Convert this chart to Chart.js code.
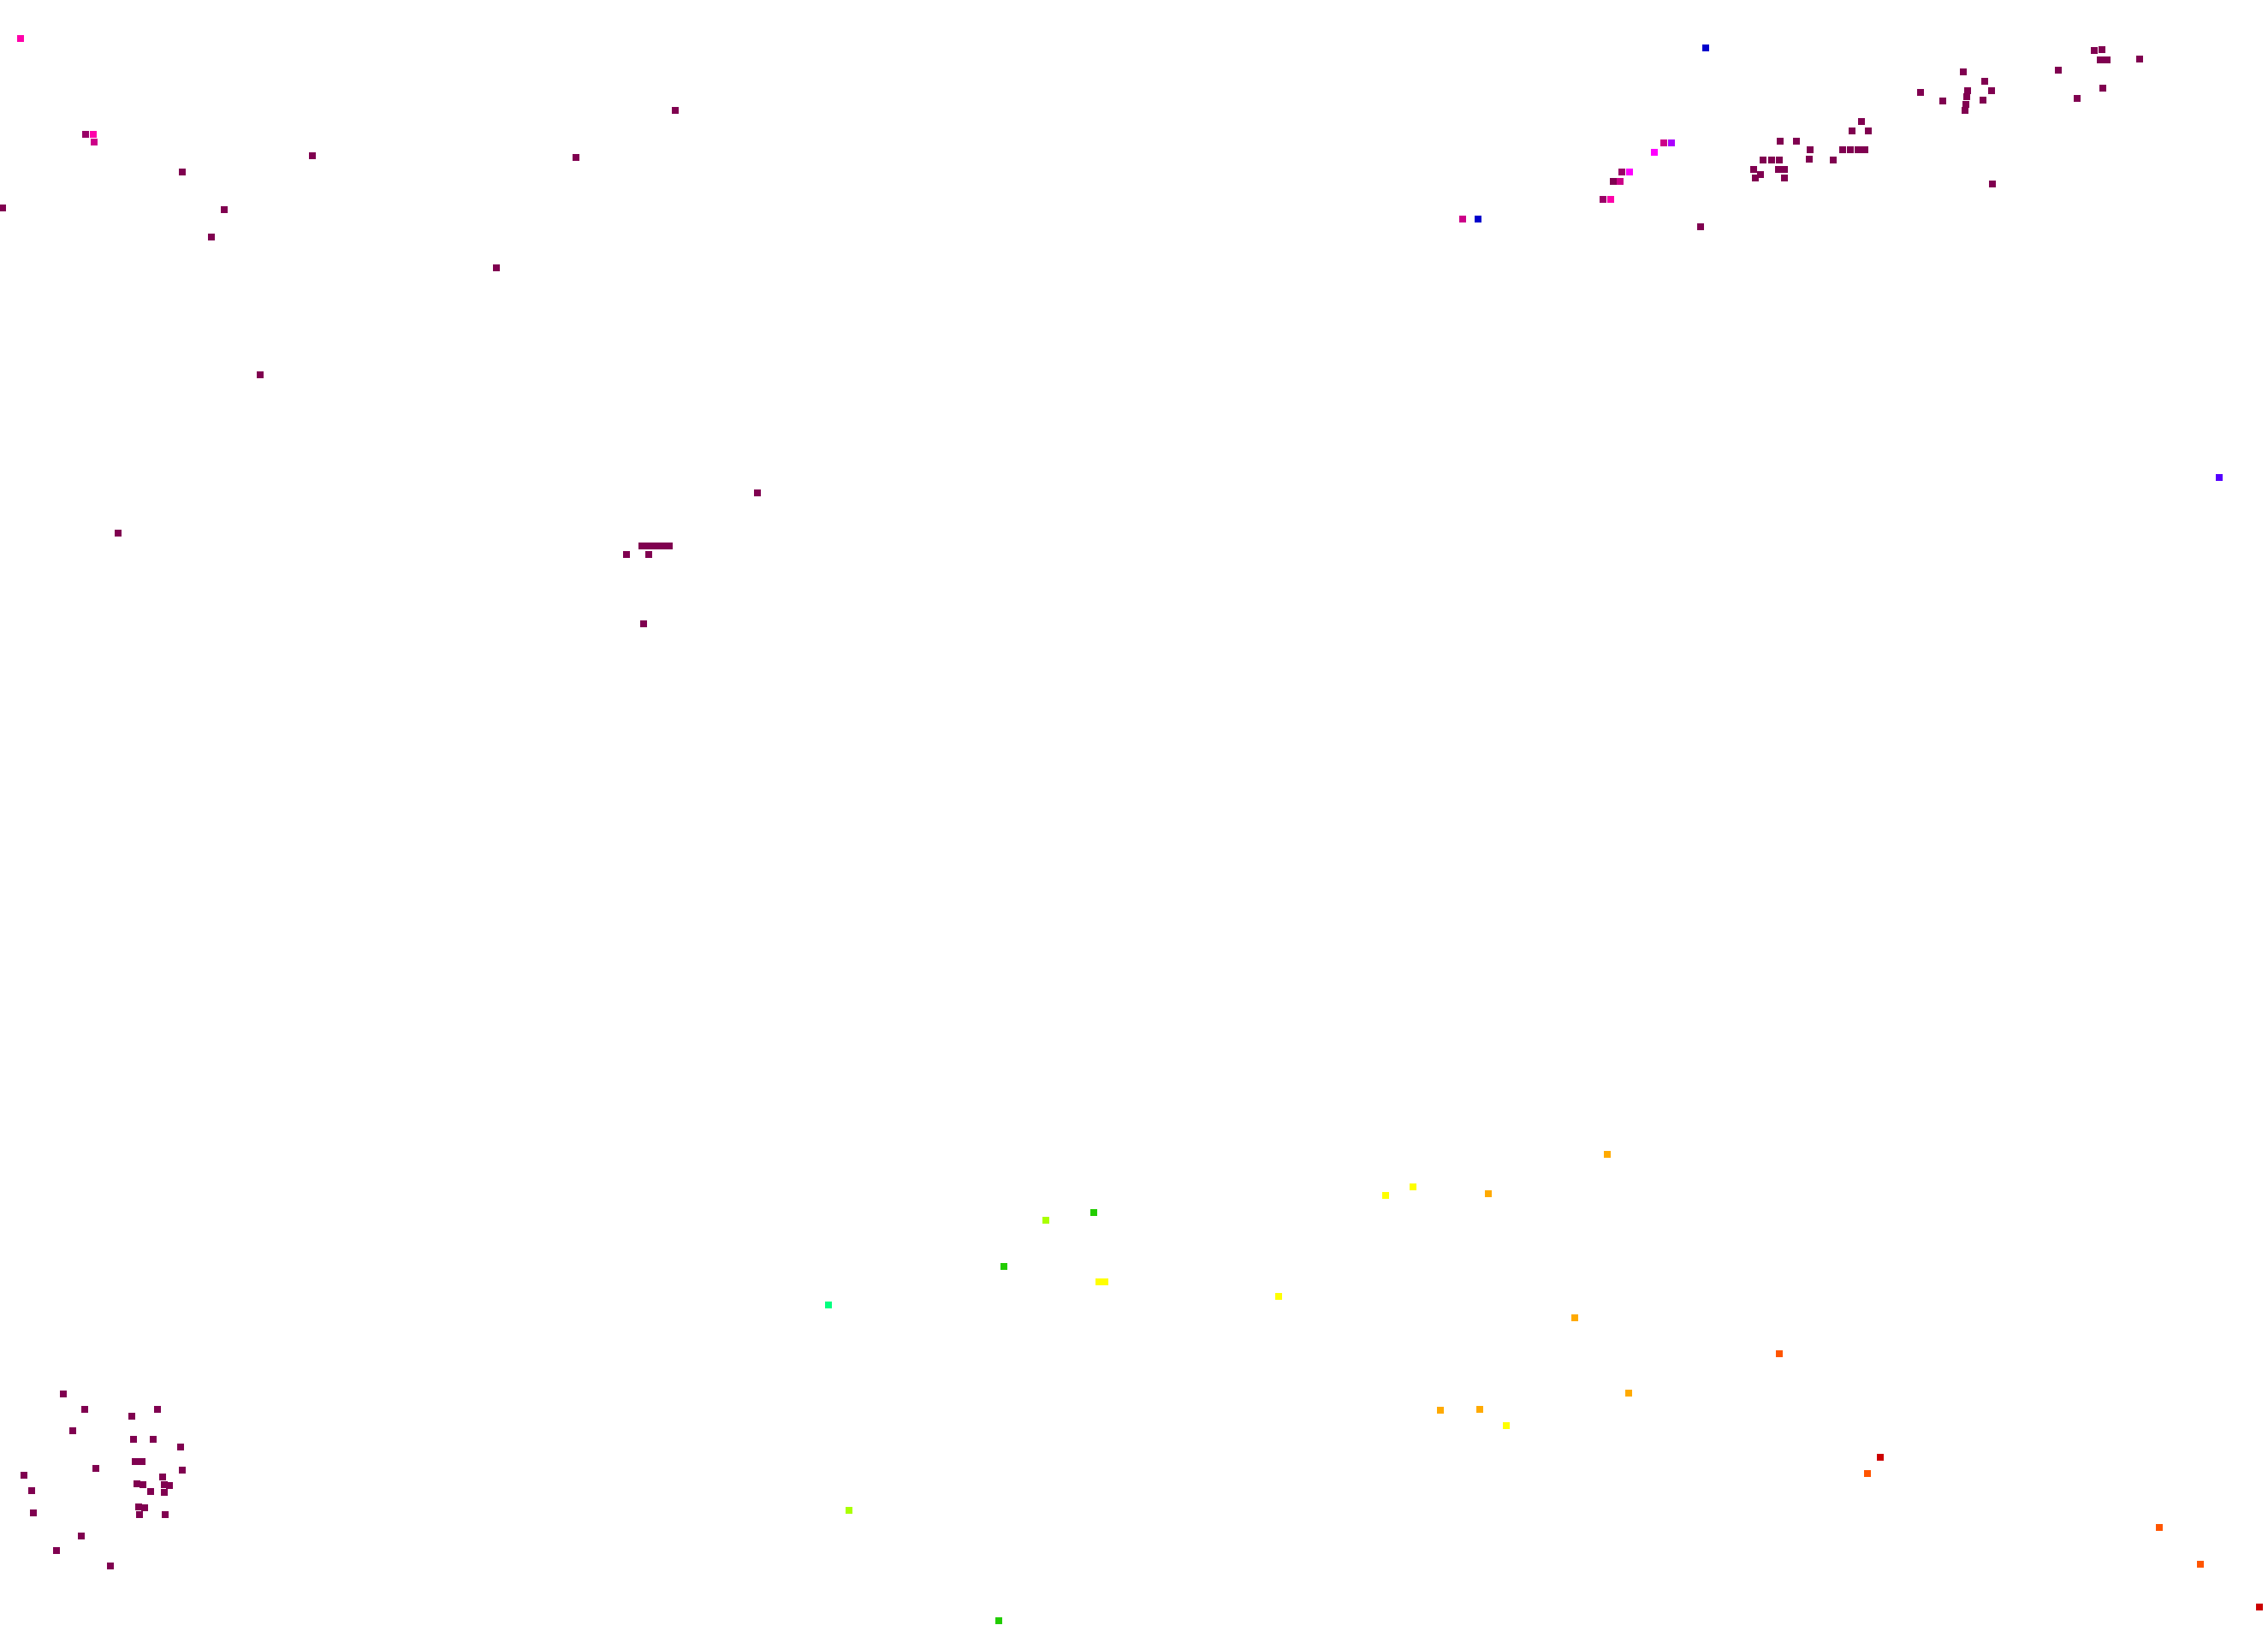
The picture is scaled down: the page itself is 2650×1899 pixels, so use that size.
<!DOCTYPE html>
<html>
<head>
<meta charset="utf-8">
<script src="https://cdn.jsdelivr.net/npm/chart.js@4/dist/chart.umd.min.js"></script>
<style>
html,body{margin:0;padding:0;background:#ffffff;overflow:hidden;}
#c{display:block;}
</style>
</head>
<body>
<canvas id="c" width="2650" height="1899"></canvas>
<script>
// Point positions (x, y in the plot's own units)
const purple = [
  [213,201],[365,182],[673,184],[789,129],[3,243],[262,245],[247,277],[580,313],[304,438],[885,576],[138,623],
  [750,638],[758,638],[766,638],[774,638],[782,638],[732,648],[758,648],[752,729],
  [1885,212],[1987,265],
  [2049,198],[2051,208],[2057,204],[2060,187],[2070,187],[2079,187],[2078,198],[2085,198],[2085,208],
  [2080,165],[2099,165],[2115,175],[2114,186],[2142,187],[2153,175],[2162,175],[2171,175],[2179,175],
  [2164,153],[2183,153],[2175,142],
  [2244,108],[2270,118],[2294,84],[2299,106],[2298,113],[2297,122],[2296,129],[2319,95],[2327,106],[2317,117],[2328,215],
  [2405,82],[2427,115],[2457,103],[2447,59],[2456,58],[2454,70],[2462,70],[2500,69],
  [74,1629],[99,1647],[85,1672],[28,1724],[37,1742],[39,1768],[112,1716],[95,1795],[66,1812],[129,1830],
  [154,1655],[184,1647],[156,1682],[179,1682],[211,1691],[158,1708],[166,1708],[213,1718],[190,1726],
  [160,1734],[167,1735],[192,1735],[198,1736],[176,1743],[192,1744],[162,1761],[169,1762],[163,1770],[193,1770]
];
const plum = [[100,157],[1873,233],[1895,201]];
const mediumMagenta = [[110,166],[1709,256],[1893,212],[1944,167]];
const pink = [[24,45],[109,157],[1882,233]];
const magenta = [[1904,201],[1933,178]];
const violet = [[1953,167]];
const blue = [[1993,56],[1727,256]];
const indigo = [[2593,558]];
const springGreen = [[968,1525]];
const green = [[1278,1417],[1173,1480],[1167,1894]];
const lime = [[1222,1426],[992,1765]];
const yellow = [[1651,1387],[1619,1397],[1284,1498],[1291,1498],[1494,1515],[1760,1666]];
const orange = [[1878,1349],[1739,1395],[1840,1540],[1903,1628],[1683,1648],[1729,1647]];
const orangeRed = [[2079,1582],[2182,1722],[2523,1785],[2571,1828]];
const red = [[2197,1703],[2640,1878]];

const xRange = [0, 2650];
const yRange = [0, 1899];

const groups = [
  [purple, '#800050'],
  [plum, '#990066'],
  [mediumMagenta, '#cc0088'],
  [pink, '#ff00aa'],
  [magenta, '#ff00ff'],
  [violet, '#aa00ff'],
  [blue, '#0000cc'],
  [indigo, '#5500ff'],
  [springGreen, '#00ff80'],
  [green, '#22cc00'],
  [lime, '#aaff00'],
  [yellow, '#ffff00'],
  [orange, '#ffaa00'],
  [orangeRed, '#ff5500'],
  [red, '#cc0000']
];

const datasets = groups.map(([pts, col]) => ({
  data: pts.map(p => ({x: p[0], y: p[1]})),
  backgroundColor: col,
  borderColor: col,
  borderWidth: 0,
  pointStyle: 'rect',
  pointRadius: 5.7,
  pointHoverRadius: 5.7,
  showLine: false,
  clip: false
}));

new Chart(document.getElementById('c'), {
  type: 'scatter',
  data: { datasets },
  options: {
    responsive: false,
    devicePixelRatio: 1,
    animation: false,
    layout: { padding: 0, autoPadding: false },
    plugins: { legend: { display: false }, tooltip: { enabled: false } },
    events: [],
    scales: {
      x: { type: 'linear', min: xRange[0], max: xRange[1], display: false },
      y: { type: 'linear', min: yRange[0], max: yRange[1], reverse: true, display: false }
    }
  }
});
</script>
</body>
</html>
